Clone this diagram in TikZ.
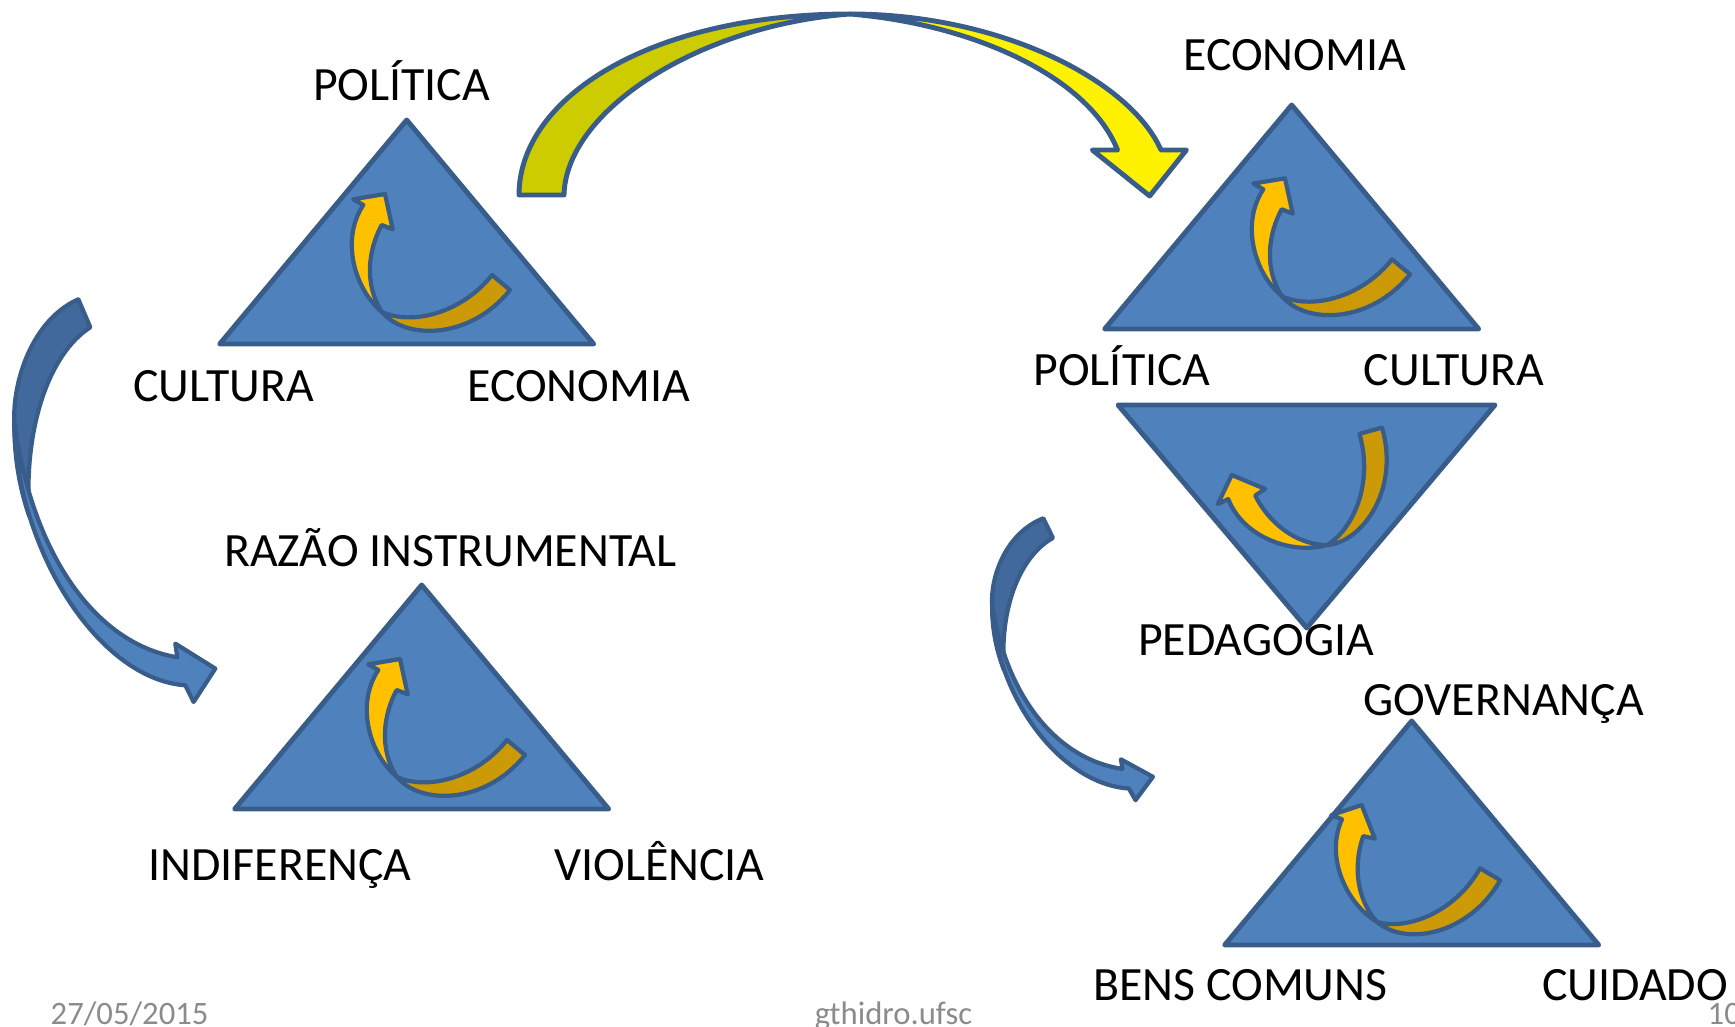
\documentclass[tikz,border=0pt]{standalone}
\usepackage{fontspec}
\setmainfont{Carlito}
\definecolor{edgeblue}{HTML}{385D8A}
\definecolor{triblue}{HTML}{4F81BD}
\definecolor{backblue}{HTML}{41699B}
\definecolor{goldfront}{HTML}{FFC000}
\definecolor{goldback}{HTML}{CC9A06}
\definecolor{olive}{HTML}{CCCC00}
\definecolor{footgray}{HTML}{8B8B8B}
\begin{document}
\begin{tikzpicture}[x=0.1mm,y=-0.1mm,
    tri/.style={draw=edgeblue,fill=triblue,line width=1.4pt,line join=round},
    ribbonfront/.style={draw=edgeblue,fill=goldfront,line width=1.2pt,line join=round},
    ribbonback/.style={draw=edgeblue,fill=goldback,line width=1.2pt,line join=round},
    bigfront/.style={draw=edgeblue,fill=yellow,line width=1.4pt,line join=round},
    bigback/.style={draw=edgeblue,fill=olive,line width=1.4pt,line join=round},
    bendfront/.style={draw=edgeblue,fill=triblue,line width=1.2pt,line join=round},
    bendback/.style={draw=edgeblue,fill=backblue,line width=1.2pt,line join=round},
    lbl/.style={anchor=base,inner sep=0pt,font=\fontsize{13.6}{16}\selectfont},
    foot/.style={anchor=base,inner sep=0pt,text=footgray,font=\fontsize{9.3}{11}\selectfont},
    twistarrow/.pic={
        \draw[ribbonback] (-3,118) .. controls (20,146) and (85,146) .. (125,96)
            -- (107,81) .. controls (75,121) and (25,131) .. cycle;
        \draw[ribbonfront] (-3,118) .. controls (-30,96) and (-45,46) .. (-21.7,11)
            -- (-31.7,5.3) -- (0,0) -- (7.7,35.3) -- (-3.3,31)
            .. controls (-17,56) and (-21,91) .. cycle;
    },
    bendarrow/.pic={
        \draw[bendback] (0,0) -- (12,28) .. controls (-30,55) and (-55,130) .. (-49,217)
            .. controls (-60,185) and (-64,155) .. (-64,124)
            .. controls (-66,80) and (-45,20) .. cycle;
        \draw[bendfront] (-64,124) .. controls (-62,250) and (20,380) .. (107,386)
            -- (115.3,402.7) -- (137,369.3) -- (97,344.3) -- (99,358)
            .. controls (20,345) and (-45,260) .. cycle;
    }]
\useasboundingbox (0,0) rectangle (1735,1027);

% triangles
\foreach \x/\y in {406.7/120,1291.7/105,421.7/585,1411.7/721}{
    \draw[tri] (\x,\y) -- ++(-187,224) -- ++(374,0) -- cycle;
}
\draw[tri] (1118,405) -- (1495,405) -- (1306.7,628) -- cycle;

% small turning arrows
\pic at (385,194) {twistarrow};
\pic at (1285,178.3) {twistarrow};
\pic at (400,659) {twistarrow};
\pic[rotate=9] at (1361.7,805) {twistarrow};
\pic[rotate=55] at (1231.7,475) {twistarrow};

% big yellow arrow
\draw[bigback] (519,195) .. controls (519,98) and (650,14) .. (850,14)
    .. controls (700,25) and (566,110) .. (564,195) -- cycle;
\draw[bigfront] (850,14) .. controls (1000,14) and (1130,80) .. (1161,150)
    -- (1186.4,150) -- (1149.7,196) -- (1092.3,150) -- (1117.5,150)
    .. controls (1090,80) and (980,25) .. cycle;

% blue bent arrows
\pic at (78.3,299.3) {bendarrow};
\pic[xscale=0.8,yscale=0.7] at (1043.3,518.3) {bendarrow};

% labels
\node[lbl] (pol1) at (401.5,101) {POLÍTICA};
\node[lbl] (cul1) at (223.5,401.5) {CULTURA};
\node[lbl] (eco1) at (578.7,401.5) {ECONOMIA};
\node[lbl] (eco2) at (1294.6,70.5) {ECONOMIA};
\node[lbl] (pol2) at (1122,386) {POLÍTICA};
\node[lbl] (cul2) at (1454,386) {CULTURA};
\node[lbl] (ped) at (1256,656) {PEDAGOGIA};
\node[lbl] (raz) at (450.3,567) {RAZÃO INSTRUMENTAL};
\node[lbl] (ind) at (280,880.5) {INDIFERENÇA};
\node[lbl] (vio) at (659.5,880.5) {VIOLÊNCIA};
\node[lbl] (gov) at (1503.7,715.5) {GOVERNANÇA};
\node[lbl] (ben) at (1240.4,1000) {BENS COMUNS};
\node[lbl] (cui) at (1635,1000) {CUIDADO};

% footer
\node[foot,anchor=base west] (date) at (50,1024) {27/05/2015};
\node[foot] (site) at (893.5,1024) {gthidro.ufsc};
\node[foot,anchor=base west] (page) at (1707,1024) {10};
\end{tikzpicture}
\end{document}
